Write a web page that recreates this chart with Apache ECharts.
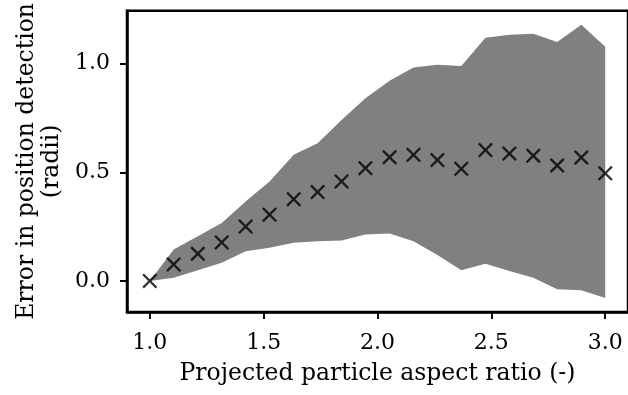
<!DOCTYPE html>
<html>
<head>
<meta charset="utf-8">
<script src="https://cdn.jsdelivr.net/npm/echarts@6/dist/echarts.min.js"></script>
<style>
  html, body { margin: 0; padding: 0; background: #fff; }
  #chart { width: 628px; height: 395px; }
</style>
</head>
<body>
<div id="chart"></div>
<script>
// aspect ratio bins
const aspectRatio = [1.000, 1.105, 1.211, 1.316, 1.421, 1.526, 1.632, 1.737, 1.842, 1.947,
  2.053, 2.158, 2.263, 2.368, 2.474, 2.579, 2.684, 2.789, 2.895, 3.000]
// mean error (x markers)
const meanError = [0, 0.076, 0.125, 0.177, 0.250, 0.305, 0.376, 0.409, 0.458, 0.519,
  0.569, 0.580, 0.556, 0.516, 0.602, 0.586, 0.576, 0.531, 0.568, 0.495]
// shaded band edges
const upperError = [0, 0.145, 0.205, 0.267, 0.366, 0.458, 0.580, 0.634, 0.740, 0.840,
  0.921, 0.982, 0.995, 0.989, 1.119, 1.133, 1.137, 1.099, 1.179, 1.077]
const lowerError = [0, 0.015, 0.049, 0.084, 0.137, 0.153, 0.176, 0.183, 0.186, 0.214,
  0.218, 0.183, 0.119, 0.049, 0.079, 0.046, 0.015, -0.038, -0.043, -0.079]
const xTicks = [1.0, 1.5, 2.0, 2.5, 3.0]
const yTicks = [0.0, 0.5, 1.0]

const FONT = 'DejaVu Serif'
const FS = 22      // tick labels
const NAME_FS = 23.5 // axis titles

// 'x' marker as a filled polygon
const crossPath = 'path://M0,11L11,0L50,39L89,0L100,11L61,50L100,89L89,100L50,61L11,100L0,89L39,50Z'

const chart = echarts.init(document.getElementById('chart'))

// fill_between style band, drawn as one polygon through the axes' coord()
function renderBand(params, api) {
  const pts = []
  for (let i = 0; i < aspectRatio.length; i++) {
    pts.push(api.coord([aspectRatio[i], upperError[i]]))
  }
  for (let i = aspectRatio.length - 1; i >= 0; i--) {
    pts.push(api.coord([aspectRatio[i], lowerError[i]]))
  }
  return {
    type: 'polygon',
    shape: { points: pts },
    style: { fill: '#808080', stroke: null }
  }
}

const option = {
  animation: false,
  grid: {
    left: 127,
    top: 9,
    right: -2,
    bottom: 83,
    show: true,
    borderColor: '#000',
    borderWidth: 2.5,
    backgroundColor: 'transparent'
  },
  xAxis: {
    type: 'value',
    min: 0.9,
    max: 3.1,
    name: 'Projected particle aspect ratio (-)',
    nameLocation: 'middle',
    nameGap: 50,
    nameTextStyle: { fontFamily: FONT, fontSize: NAME_FS, color: '#000' },
    axisLine: { onZero: false, lineStyle: { color: '#000', width: 2.5 } },
    axisTick: { customValues: xTicks, length: 7, lineStyle: { color: '#000', width: 2 } },
    axisLabel: {
      customValues: xTicks,
      margin: 20,
      fontFamily: FONT, fontSize: FS, color: '#000',
      formatter: v => v.toFixed(1)
    },
    splitLine: { show: false }
  },
  yAxis: {
    type: 'value',
    min: -0.143,
    max: 1.243,
    name: 'Error in position detection\n(radii)',
    nameLocation: 'middle',
    nameRotate: 90,
    nameGap: 62,
    nameTextStyle: { fontFamily: FONT, fontSize: NAME_FS, color: '#000', lineHeight: 25, align: 'center' },
    axisLine: { onZero: false, lineStyle: { color: '#000', width: 2.5 } },
    axisTick: { customValues: yTicks, length: 7, lineStyle: { color: '#000', width: 2 } },
    axisLabel: {
      customValues: yTicks,
      margin: 17,
      fontFamily: FONT, fontSize: FS, color: '#000',
      formatter: v => v.toFixed(1)
    },
    splitLine: { show: false }
  },
  series: [
    {
      name: 'band',
      type: 'custom',
      renderItem: renderBand,
      data: [0],
      silent: true,
      z: 1
    },
    {
      name: 'mean',
      type: 'scatter',
      data: aspectRatio.map((x, i) => [x, meanError[i]]),
      symbol: crossPath,
      symbolSize: 15,
      itemStyle: { color: '#000' },
      z: 5
    }
  ]
}
chart.setOption(option)
</script>
</body>
</html>
